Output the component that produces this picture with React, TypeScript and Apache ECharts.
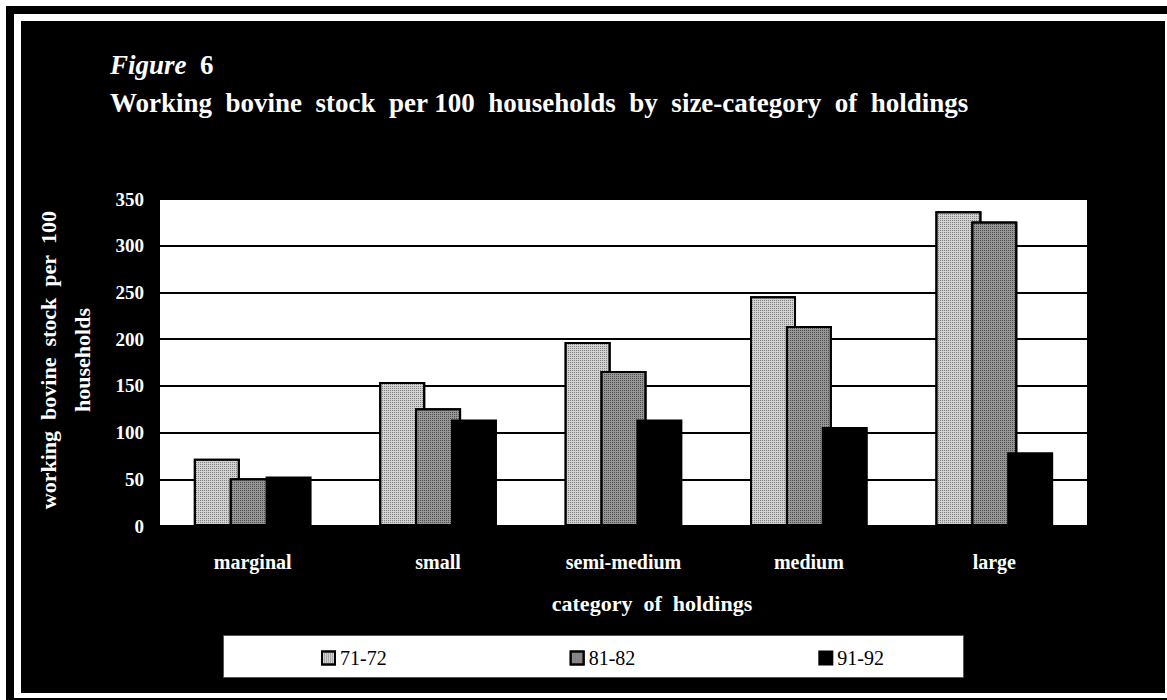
import { useEffect, useRef } from "react";
import * as echarts from "echarts";

const categories = ["marginal", "small", "semi-medium", "medium", "large"];
const seriesNames = ["71-72", "81-82", "91-92"];
const values7172 = [72, 154, 197, 246, 337];
const values8182 = [51, 126, 166, 214, 326];
const values9192 = [53, 114, 114, 106, 79];
const seriesValues = [values7172, values8182, values9192];
const seriesColors = ["#d2d2d2", "#969696", "#000000"];
const decalColors = ["#808080", "#505050", "#000000"];
const yMin = 0;
const yMax = 350;
const yStep = 50;

const SERIF = "'Liberation Serif', 'Times New Roman', serif";
const SP = "\u2002";

export default function App() {
  const ref = useRef<HTMLDivElement>(null);

  useEffect(() => {
    if (!ref.current) return;
    const chart = echarts.init(ref.current, undefined, { renderer: "svg" });
    chart.setOption({
      animation: false,
      backgroundColor: "transparent",
      textStyle: { fontFamily: SERIF },
      grid: {
        left: 160,
        right: 80,
        top: 199,
        bottom: 174,
        show: true,
        backgroundColor: "#ffffff",
        borderWidth: 0,
      },
      legend: {
        left: 316,
        top: 643,
        itemWidth: 13,
        itemHeight: 13,
        itemGap: 183,
        icon: "rect",
        data: seriesNames,
        textStyle: { fontFamily: SERIF, fontSize: 20, color: "#000" },
      },
      xAxis: {
        type: "category",
        data: categories,
        axisLine: { show: false },
        axisTick: { show: false },
        axisLabel: {
          color: "#fff",
          fontFamily: SERIF,
          fontWeight: "bold",
          fontSize: 20,
          margin: 26,
        },
      },
      yAxis: {
        type: "value",
        min: yMin,
        max: yMax,
        interval: yStep,
        axisLine: { show: false },
        axisTick: { show: false },
        splitLine: { show: true, lineStyle: { color: "#000", width: 2 } },
        axisLabel: {
          color: "#fff",
          fontFamily: SERIF,
          fontWeight: "bold",
          fontSize: 19,
          margin: 16,
        },
      },
      series: seriesNames.map((name, i) => ({
        name,
        type: "bar",
        data: seriesValues[i],
        barWidth: 46,
        barGap: "-22%",
        itemStyle: {
          color: seriesColors[i],
          borderColor: "#000",
          borderWidth: 2,
          decal:
            i < 2
              ? {
                  symbol: "rect",
                  symbolSize: 1,
                  dashArrayX: [1, 1],
                  dashArrayY: [1, 1],
                  color: decalColors[i],
                  rotation: 0,
                }
              : "none",
        },
      })),
      graphic: [
        {
          type: "text",
          left: 110,
          top: 51,
          style: {
            text: "Figure",
            fill: "#fff",
            font: `italic bold 27px ${SERIF}`,
          },
        },
        {
          type: "text",
          left: 200,
          top: 51,
          style: {
            text: "6",
            fill: "#fff",
            font: `bold 27px ${SERIF}`,
          },
        },
        {
          type: "text",
          left: 110,
          top: 89,
          style: {
            text: ["Working", "bovine", "stock", "per 100", "households", "by", "size-category", "of", "holdings"].join(SP),
            fill: "#fff",
            font: `bold 27px ${SERIF}`,
          },
        },
        {
          type: "text",
          x: 48,
          y: 360,
          rotation: Math.PI / 2,
          style: {
            text: ["working", "bovine", "stock", "per", "100"].join(SP),
            fill: "#fff",
            font: `bold 22px ${SERIF}`,
            align: "center",
            verticalAlign: "middle",
          },
        },
        {
          type: "text",
          x: 82,
          y: 360,
          rotation: Math.PI / 2,
          style: {
            text: "households",
            fill: "#fff",
            font: `bold 22px ${SERIF}`,
            align: "center",
            verticalAlign: "middle",
          },
        },
        {
          type: "text",
          x: 652,
          y: 603,
          style: {
            text: ["category", "of", "holdings"].join(SP),
            fill: "#fff",
            font: `bold 22px ${SERIF}`,
            align: "center",
            verticalAlign: "middle",
          },
        },
        {
          type: "rect",
          z: -1,
          shape: { x: 223.5, y: 635.5, width: 740, height: 42 },
          style: { fill: "#fff", stroke: "#555", lineWidth: 1 },
        },
      ],
    });
    return () => chart.dispose();
  }, []);

  const abs = (l: number, t: number, w: number, h: number, bg: string) => ({
    position: "absolute" as const,
    left: l,
    top: t,
    width: w,
    height: h,
    background: bg,
  });

  return (
    <div style={{ ...abs(0, 0, 1167, 700, "#fff"), overflow: "hidden" }}>
      <div style={abs(6, 6, 1161, 694, "#000")} />
      <div style={abs(14, 14, 1153, 684, "#fff")} />
      <div style={abs(21, 21, 1144, 672, "#000")} />
      <div ref={ref} style={abs(0, 0, 1167, 700, "transparent")} />
    </div>
  );
}
